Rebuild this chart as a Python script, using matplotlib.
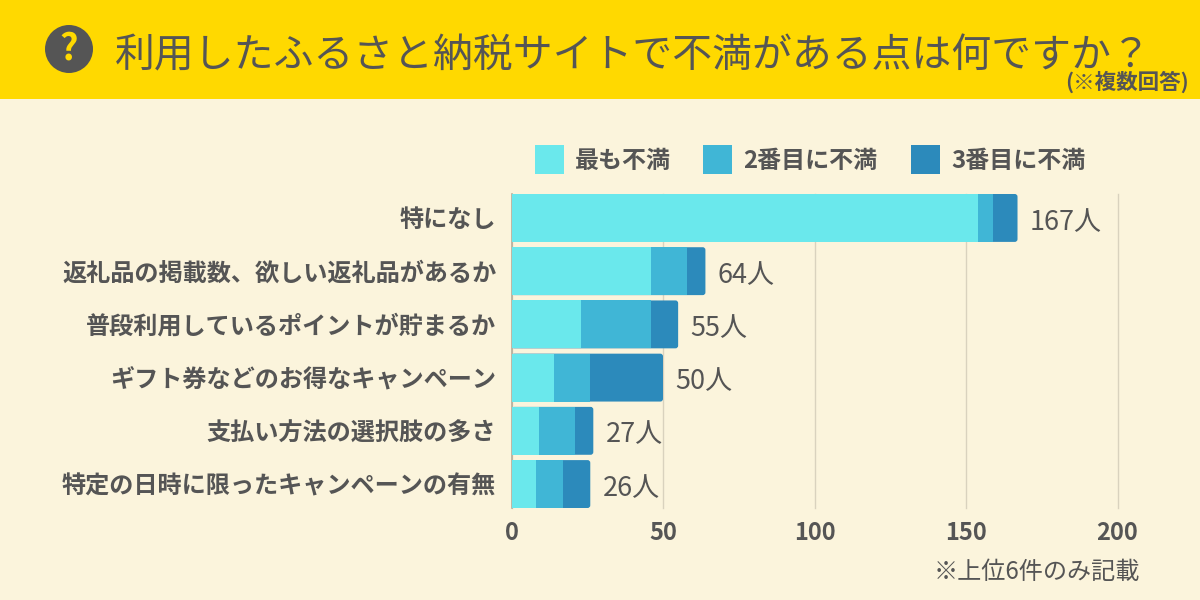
import matplotlib
matplotlib.use("Agg")
import matplotlib.pyplot as plt
from matplotlib.patches import Rectangle, Circle, FancyBboxPatch

plt.rcParams['font.family'] = ['Noto Sans CJK JP', 'DejaVu Sans']

categories = ["特になし", "返礼品の掲載数、欲しい返礼品があるか", "普段利用しているポイントが貯まるか",
              "ギフト券などのお得なキャンペーン", "支払い方法の選択肢の多さ", "特定の日時に限ったキャンペーンの有無"]
first = [154, 46, 23, 14, 9, 8]
second = [5, 12, 23, 12, 12, 9]
third = [8, 6, 9, 24, 6, 9]
totals = [167, 64, 55, 50, 27, 26]
series_names = ["最も不満", "2番目に不満", "3番目に不満"]
xticks = [0, 50, 100, 150, 200]

TEXT = "#555555"
BG = "#FBF4DC"
YELLOW = "#FFD900"
COLORS = ["#6AE8EC", "#40B6D6", "#2C8ABB"]
W, H = 1200, 600


def fx(x):
    return x / W


def fy(y):
    return 1 - y / H


fig = plt.figure(figsize=(12, 6), dpi=100, facecolor=BG)

# ヘッダー
fig.add_artist(Rectangle((0, fy(99)), 1, 99 / H, transform=fig.transFigure, color=YELLOW, lw=0))
fig.add_artist(Circle((69, H - 49), 24, transform=None, color=TEXT, lw=0))
fig.text(fx(69), fy(49), "?", color=YELLOW, fontsize=26, fontweight="bold", ha="center", va="center")
fig.text(fx(115), fy(56), "利用したふるさと納税サイトで不満がある点は何ですか？", color=TEXT,
         fontsize=28.7, ha="left", va="center")
fig.text(fx(1189), fy(82), "(※複数回答)", color=TEXT, fontsize=15.5, fontweight="bold", ha="right", va="center")

# グラフ本体
ax = fig.add_axes([fx(511.5), fy(508), (1117.5 - 511.5) / W, (508 - 194) / H])
ax.set_facecolor("none")
ax.set_xlim(0, 200)
ax.set_ylim(5.45, -0.45)
ypos = list(range(len(categories)))
aspect = (5.9 / 314) / (200 / 606)

for y, total in zip(ypos, totals):
    # 右端だけ角丸にするため全長を濃い色で敷く
    ax.add_patch(FancyBboxPatch((0, y - 0.45), total, 0.9, boxstyle="round,pad=0,rounding_size=0.9",
                                mutation_aspect=aspect, fc=COLORS[2], ec="none", zorder=2))
ax.barh(ypos, first, height=0.9, color=COLORS[0], zorder=3)
ax.barh(ypos, second, left=first, height=0.9, color=COLORS[1], zorder=3)

for y, total in zip(ypos, totals):
    ax.annotate(f"{total}人", (total, y), xytext=(9, -3), textcoords="offset points", color=TEXT,
                fontsize=19.5, ha="left", va="center")

ax.set_xticks(xticks)
ax.set_yticks(ypos)
ax.set_yticklabels(categories)
ax.tick_params(axis="both", length=0)
ax.tick_params(axis="x", pad=9, labelsize=17, labelcolor=TEXT)
ax.tick_params(axis="y", pad=11, labelsize=17.4, labelcolor=TEXT)
for label in ax.get_xticklabels() + ax.get_yticklabels():
    label.set_fontweight("bold")
ax.grid(axis="x", color="#D9D2BE", lw=1, zorder=0)
for line in ax.get_xgridlines():
    line.set_clip_on(False)
ax.set_axisbelow(True)
for side in ["top", "right", "bottom"]:
    ax.spines[side].set_visible(False)
ax.spines["left"].set_color("#B5AE9C")
ax.spines["left"].set_linewidth(1.2)

# 凡例
legend_boxes = [535, 703, 911]
legend_text = [575, 743, 951]
for box, tx, name, color in zip(legend_boxes, legend_text, series_names, COLORS):
    fig.add_artist(Rectangle((fx(box), fy(174)), 29 / W, 29 / H, transform=fig.transFigure, color=color, lw=0))
    fig.text(fx(tx), fy(161), name, color=TEXT, fontsize=17.3, fontweight="bold", ha="left", va="center")

fig.text(fx(1140), fy(572), "※上位6件のみ記載", color=TEXT, fontsize=17.4, ha="right", va="center")

fig.savefig("out.png", dpi=100, facecolor=BG)
